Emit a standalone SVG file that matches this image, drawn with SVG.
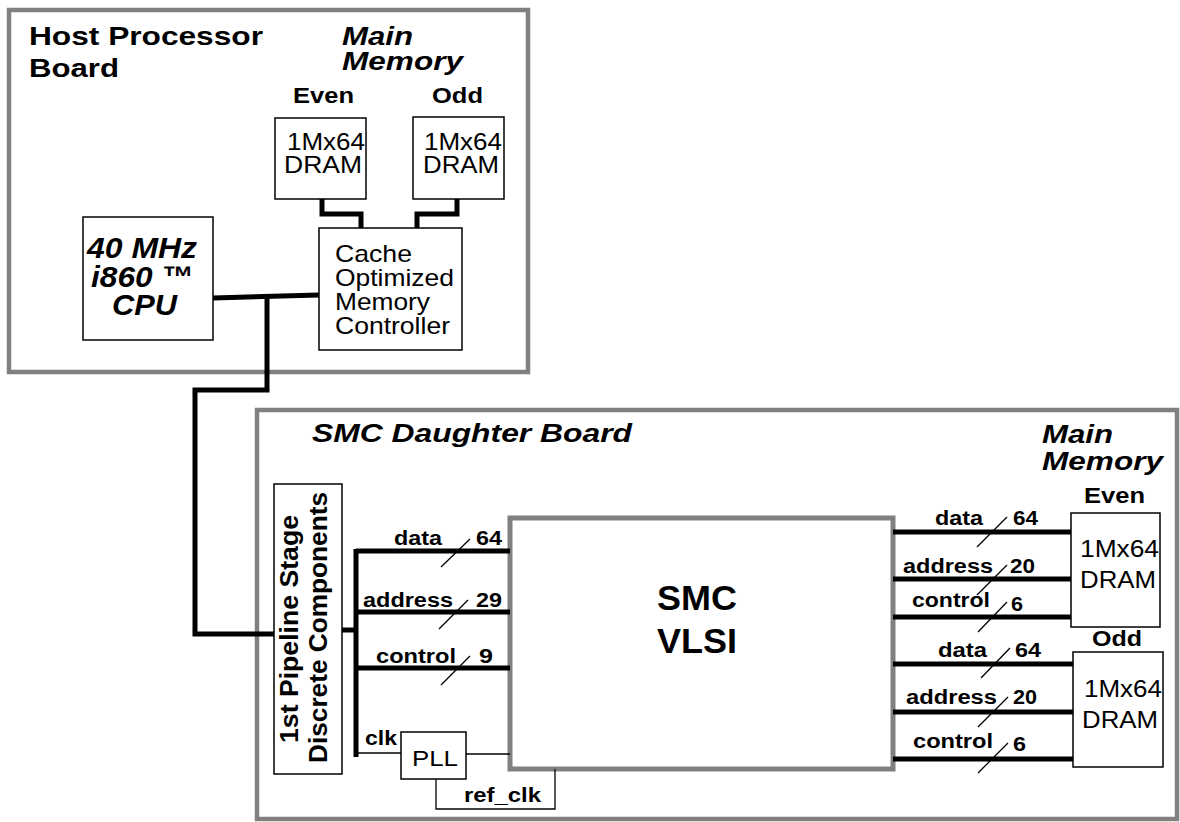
<svg xmlns="http://www.w3.org/2000/svg" width="1180" height="822" viewBox="0 0 1180 822">
<style>
text{font-family:"Liberation Sans",Arial,Helvetica,sans-serif;fill:#000}
.bd{font-weight:bold}
.bi{font-weight:bold;font-style:italic}
.board{fill:none;stroke:#808080;stroke-width:4.5}
.chip{fill:#fff;stroke:#808080;stroke-width:5}
.box{fill:#fff;stroke:#000;stroke-width:1.5}
.bus{fill:none;stroke:#000;stroke-width:5}
.thin{fill:none;stroke:#000;stroke-width:1.3}
.lbl{font-weight:bold;font-size:20px}
</style>
<rect width="1180" height="822" fill="#fff"/>
<g id="host-board">
<rect class="board" x="9" y="10" width="519" height="362"/>
<text class="bd" font-size="25" x="29" y="45" textLength="234" lengthAdjust="spacingAndGlyphs">Host Processor</text>
<text class="bd" font-size="25" x="29" y="77" textLength="90" lengthAdjust="spacingAndGlyphs">Board</text>
<text class="bi" font-size="25" x="342" y="45" textLength="71" lengthAdjust="spacingAndGlyphs">Main</text>
<text class="bi" font-size="25" x="342" y="70" textLength="121" lengthAdjust="spacingAndGlyphs">Memory</text>
</g>
<g id="host-even-dram">
<text class="bd" font-size="22" x="293" y="103" textLength="61" lengthAdjust="spacingAndGlyphs">Even</text>
<rect class="box" x="275" y="118" width="91" height="81"/>
<text font-size="24" x="287" y="150" textLength="78" lengthAdjust="spacingAndGlyphs">1Mx64</text>
<text font-size="24" x="284" y="173" textLength="78" lengthAdjust="spacingAndGlyphs">DRAM</text>
</g>
<g id="host-odd-dram">
<text class="bd" font-size="22" x="432" y="103" textLength="51" lengthAdjust="spacingAndGlyphs">Odd</text>
<rect class="box" x="413" y="117" width="91" height="82"/>
<text font-size="24" x="424" y="150" textLength="78" lengthAdjust="spacingAndGlyphs">1Mx64</text>
<text font-size="24" x="423" y="173" textLength="76" lengthAdjust="spacingAndGlyphs">DRAM</text>
</g>
<g id="memory-controller">
<rect class="box" x="319" y="228" width="143" height="122"/>
<text font-size="24" x="335" y="262" textLength="77" lengthAdjust="spacingAndGlyphs">Cache</text>
<text font-size="24" x="335" y="286" textLength="119" lengthAdjust="spacingAndGlyphs">Optimized</text>
<text font-size="24" x="335" y="310" textLength="95" lengthAdjust="spacingAndGlyphs">Memory</text>
<text font-size="24" x="335" y="334" textLength="115" lengthAdjust="spacingAndGlyphs">Controller</text>
</g>
<g id="cpu">
<rect class="box" x="83" y="217" width="130" height="123"/>
<text class="bi" font-size="30" x="87" y="258" textLength="110" lengthAdjust="spacingAndGlyphs">40 MHz</text>
<text class="bi" font-size="30" x="91" y="287" textLength="102" lengthAdjust="spacingAndGlyphs">i860 ™</text>
<text class="bi" font-size="30" x="112" y="315" textLength="65" lengthAdjust="spacingAndGlyphs">CPU</text>
</g>
<g id="daughter-board">
<rect class="board" x="257" y="410" width="920" height="409"/>
<text class="bi" font-size="25" x="312" y="442" textLength="320" lengthAdjust="spacingAndGlyphs">SMC Daughter Board</text>
<text class="bi" font-size="25" x="1042" y="443" textLength="71" lengthAdjust="spacingAndGlyphs">Main</text>
<text class="bi" font-size="25" x="1042" y="470" textLength="121" lengthAdjust="spacingAndGlyphs">Memory</text>
</g>
<g id="pipeline">
<rect class="box" x="274" y="484" width="68" height="290"/>
<text class="bd" font-size="25" transform="translate(298,743) rotate(-90)" textLength="228" lengthAdjust="spacingAndGlyphs">1st Pipeline Stage</text>
<text class="bd" font-size="25" transform="translate(327,763) rotate(-90)" textLength="271" lengthAdjust="spacingAndGlyphs">Discrete Components</text>
</g>
<g id="smc">
<rect class="chip" x="510" y="518" width="383" height="251"/>
<text class="bd" font-size="35" x="657" y="610" textLength="80" lengthAdjust="spacingAndGlyphs">SMC</text>
<text class="bd" font-size="35" x="657" y="653" textLength="80" lengthAdjust="spacingAndGlyphs">VLSI</text>
</g>
<g id="pll">
<rect class="box" x="401" y="732" width="65" height="47"/>
<text font-size="22" x="412" y="766" textLength="46" lengthAdjust="spacingAndGlyphs">PLL</text>
</g>
<g id="smc-even-dram">
<text class="bd" font-size="22" x="1084" y="503" textLength="61" lengthAdjust="spacingAndGlyphs">Even</text>
<rect class="box" x="1071" y="513" width="89" height="114"/>
<text font-size="24" x="1080" y="557" textLength="79" lengthAdjust="spacingAndGlyphs">1Mx64</text>
<text font-size="24" x="1080" y="588" textLength="76" lengthAdjust="spacingAndGlyphs">DRAM</text>
</g>
<g id="smc-odd-dram">
<text class="bd" font-size="22" x="1092" y="646" textLength="50" lengthAdjust="spacingAndGlyphs">Odd</text>
<rect class="box" x="1073" y="652" width="90" height="115"/>
<text font-size="24" x="1084" y="697" textLength="78" lengthAdjust="spacingAndGlyphs">1Mx64</text>
<text font-size="24" x="1082" y="728" textLength="76" lengthAdjust="spacingAndGlyphs">DRAM</text>
</g>
<g id="connectors">
<path class="bus" d="M322,199 V214 H361 V228"/>
<path class="bus" d="M457,199 V214 H417 V228"/>
<path class="bus" d="M213,298 L319,295"/>
<path class="bus" d="M267,297 V390 H195 V634 H274"/>
<path class="bus" d="M342,630 H356"/>
<path class="bus" d="M356,549 V757"/>
<path class="bus" d="M356,551 H510"/>
<path class="bus" d="M356,612 H510"/>
<path class="bus" d="M356,668 H510"/>
<path class="thin" d="M356,753 H401"/>
<path class="thin" d="M466,754 H510"/>
<path class="thin" d="M436,779 V809 H555 V769"/>
<path class="bus" d="M893,532 H1071"/>
<path class="bus" d="M893,579 H1071"/>
<path class="bus" d="M893,617 H1071"/>
<path class="bus" d="M893,664 H1073"/>
<path class="bus" d="M893,712 H1073"/>
<path class="bus" d="M893,759 H1073"/>
<path class="thin" d="M441,567 L470,539 M439,629 L468,600 M441,685 L470,656"/>
<path class="thin" d="M977,547 L1007,517 M977,595 L1007,565 M978,632 L1007,602 M981,678 L1010,648 M978,727 L1008,697 M978,773 L1008,743"/>
<text class="lbl" x="394" y="545" textLength="48" lengthAdjust="spacingAndGlyphs">data</text>
<text class="lbl" x="476" y="545" textLength="26" lengthAdjust="spacingAndGlyphs">64</text>
<text class="lbl" x="363" y="607" textLength="90" lengthAdjust="spacingAndGlyphs">address</text>
<text class="lbl" x="476" y="607" textLength="26" lengthAdjust="spacingAndGlyphs">29</text>
<text class="lbl" x="376" y="663" textLength="80" lengthAdjust="spacingAndGlyphs">control</text>
<text class="lbl" x="479" y="663" textLength="14" lengthAdjust="spacingAndGlyphs">9</text>
<text class="lbl" x="365" y="745" textLength="32" lengthAdjust="spacingAndGlyphs">clk</text>
<text class="lbl" x="464" y="802" textLength="77" lengthAdjust="spacingAndGlyphs">ref_clk</text>
<text class="lbl" x="935" y="525" textLength="48" lengthAdjust="spacingAndGlyphs">data</text>
<text class="lbl" x="1013" y="525" textLength="25" lengthAdjust="spacingAndGlyphs">64</text>
<text class="lbl" x="903" y="573" textLength="90" lengthAdjust="spacingAndGlyphs">address</text>
<text class="lbl" x="1010" y="573" textLength="25" lengthAdjust="spacingAndGlyphs">20</text>
<text class="lbl" x="912" y="607" textLength="78" lengthAdjust="spacingAndGlyphs">control</text>
<text class="lbl" x="1011" y="611" textLength="12" lengthAdjust="spacingAndGlyphs">6</text>
<text class="lbl" x="938" y="657" textLength="49" lengthAdjust="spacingAndGlyphs">data</text>
<text class="lbl" x="1015" y="657" textLength="26" lengthAdjust="spacingAndGlyphs">64</text>
<text class="lbl" x="906" y="704" textLength="91" lengthAdjust="spacingAndGlyphs">address</text>
<text class="lbl" x="1013" y="704" textLength="24" lengthAdjust="spacingAndGlyphs">20</text>
<text class="lbl" x="913" y="748" textLength="80" lengthAdjust="spacingAndGlyphs">control</text>
<text class="lbl" x="1013" y="751" textLength="13" lengthAdjust="spacingAndGlyphs">6</text>
</g>
</svg>
